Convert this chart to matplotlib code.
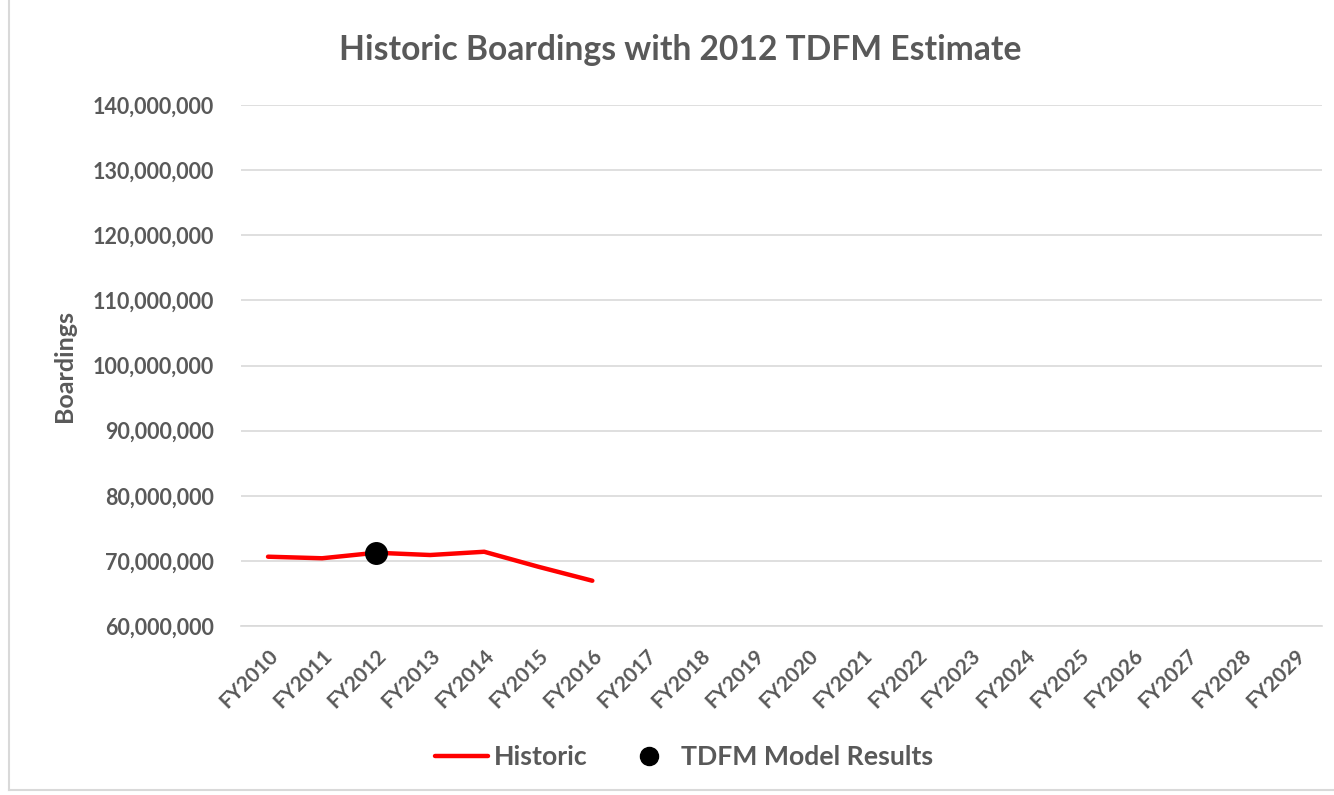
import matplotlib
matplotlib.use("Agg")
import matplotlib.pyplot as plt
from matplotlib.lines import Line2D
from matplotlib.ticker import FuncFormatter

categories = ["FY%d" % y for y in range(2010, 2030)]
historic_cats = ["FY2010", "FY2011", "FY2012", "FY2013", "FY2014", "FY2015", "FY2016"]
historic_vals = [70.64e6, 70.4e6, 71.25e6, 70.9e6, 71.4e6, 69.1e6, 66.95e6]
model_cats = ["FY2012"]
model_vals = [71.2e6]
y_ticks = [60e6, 70e6, 80e6, 90e6, 100e6, 110e6, 120e6, 130e6, 140e6]

TXT = "#595959"
GRID = "#d9d9d9"
plt.rcParams["font.family"] = ["Lato", "DejaVu Sans"]

W, H = 1334, 795
fig = plt.figure(figsize=(W / 100, H / 100), dpi=100)
ax = fig.add_axes([241 / W, 1 - 626 / H, (1322 - 241) / W, (626 - 105) / H])

xpos = {c: i for i, c in enumerate(categories)}
ax.plot([xpos[c] for c in historic_cats], historic_vals, color="#ff0000", lw=3.2,
        solid_capstyle="round", solid_joinstyle="round", zorder=3)
ax.plot([xpos[c] for c in model_cats], model_vals, "o", color="black", ms=15.5,
        zorder=4)

ax.set_xlim(-0.5, len(categories) - 0.5)
ax.set_ylim(60e6, 140e6)
ax.set_yticks(y_ticks)
ax.yaxis.set_major_formatter(FuncFormatter(lambda v, p: "{:,.0f}".format(v)))
ax.set_xticks(range(len(categories)))
ax.set_xticklabels(categories, rotation=45, ha="right", va="top",
                   rotation_mode="anchor")
ax.grid(axis="y", color=GRID, lw=1.2)
ax.set_axisbelow(True)
for s in ["left", "right", "top"]:
    ax.spines[s].set_visible(False)
ax.spines["bottom"].set_color(GRID)
ax.spines["bottom"].set_linewidth(1.2)
ax.tick_params(axis="both", length=0, colors=TXT, labelsize=15.5)
ax.tick_params(axis="x", labelsize=15)
ax.tick_params(axis="y", pad=19.5)
ax.tick_params(axis="x", pad=14)
for lab in ax.get_xticklabels() + ax.get_yticklabels():
    lab.set_fontweight("bold")

fig.text(65 / W, 1 - 366 / H, "Boardings", rotation=90, ha="center", va="center",
         fontsize=18, fontweight="bold", color=TXT)
fig.text(680 / W, 1 - 50 / H, "Historic Boardings with 2012 TDFM Estimate",
         ha="center", va="center", fontsize=24.2, fontweight="bold", color=TXT)

handles = [Line2D([], [], color="#ff0000", lw=3.2, solid_capstyle="round"),
           Line2D([], [], ls="none", marker="o", color="black", ms=13)]
leg = fig.legend(handles, ["Historic", "TDFM Model Results"], ncol=2,
                 loc="center", bbox_to_anchor=(684 / W, 1 - 757 / H),
                 frameon=False, handlelength=2.0, handletextpad=0.2,
                 columnspacing=1.3, prop={"size": 19.2, "weight": "bold"})
for t in leg.get_texts():
    t.set_color(TXT)

# outer chart border (left and bottom visible)
fig.add_artist(Line2D([8.5 / W, 8.5 / W], [1 - 790 / H, 1.0], color=GRID, lw=1.5,
                      transform=fig.transFigure))
fig.add_artist(Line2D([8.5 / W, 1.0], [1 - 790 / H, 1 - 790 / H], color=GRID, lw=1.5,
                      transform=fig.transFigure))

fig.savefig("out.png", dpi=100, facecolor="white")
